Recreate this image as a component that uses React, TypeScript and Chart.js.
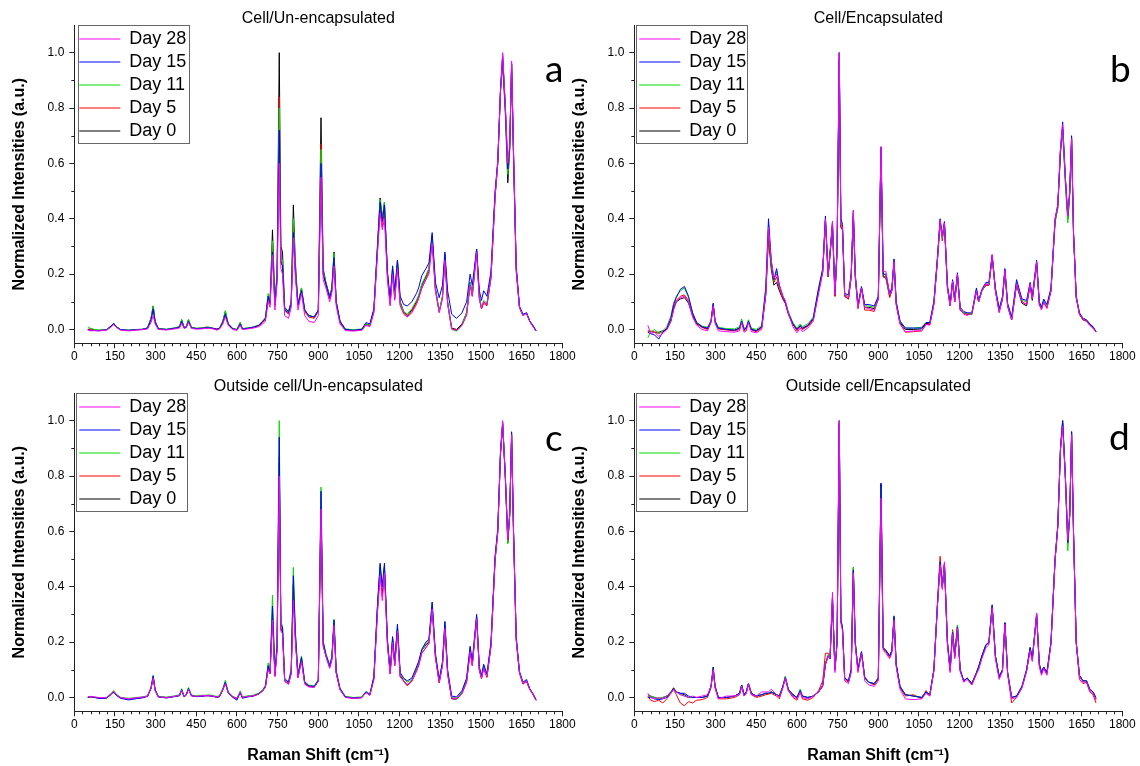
import React, { useEffect, useRef } from "react";
import { Chart, registerables } from "chart.js";

Chart.register(...registerables);

const FONT = "'Liberation Sans', Arial, sans-serif";

const WAVENUMBERS = [
  50, 60, 75, 90, 105, 120, 135, 145, 155, 170,
  185, 200, 215, 230, 250, 270, 283, 291, 298, 310,
  340, 370, 388, 396, 405, 413, 421, 432, 450, 470,
  485, 495, 505, 515, 525, 535, 548, 557, 568, 585,
  600, 612, 620, 640, 660, 680, 695, 705, 715, 722,
  731, 740, 748, 756, 762, 768, 776, 790, 800, 808,
  815, 825, 838, 850, 865, 885, 900, 910, 918, 928,
  942, 950, 958, 966, 980, 1000, 1030, 1060, 1076, 1090,
  1105, 1118, 1128, 1136, 1144, 1155, 1165, 1174, 1182, 1192,
  1202, 1215, 1228, 1245, 1262, 1270, 1282, 1297, 1308, 1320,
  1332, 1346, 1358, 1367, 1377, 1392, 1410, 1430, 1447, 1460,
  1468, 1484, 1494, 1502, 1510, 1522, 1537, 1552, 1562, 1572,
  1580, 1590, 1599, 1606, 1613, 1620, 1630, 1642, 1655, 1668,
  1680, 1692, 1703,
];

const X_TICKS = [0, 150, 300, 450, 600, 750, 900, 1050, 1200, 1350, 1500, 1650, 1800];
const Y_TICKS = [0, 0.2, 0.4, 0.6, 0.8, 1.0];
const SERIES_LABELS = ["Day 28", "Day 15", "Day 11", "Day 5", "Day 0"];
const SERIES_COLORS = ["#ff00ff", "#0000ff", "#00dd00", "#ff0000", "#000000"];

// ---------- Panel a: Cell/Un-encapsulated ----------
const A_DAY28 = [
  -0.002, -0.005, -0.004, -0.005, -0.004, -0.002, 0.008, 0.018, 0.008, -0.002,
  -0.004, -0.005, -0.004, -0.002, -0.001, 0.002, 0.025, 0.050, 0.020, 0.000,
  -0.002, 0.002, 0.005, 0.022, 0.004, 0.006, 0.025, 0.004, 0.001, 0.002,
  0.004, 0.004, 0.003, 0.001, -0.002, 0.001, 0.020, 0.045, 0.014, 0.000,
  -0.003, 0.015, 0.000, 0.002, 0.005, 0.010, 0.020, 0.030, 0.100, 0.080,
  0.270, 0.070, 0.170, 0.600, 0.220, 0.200, 0.050, 0.040, 0.080, 0.330,
  0.200, 0.070, 0.130, 0.050, 0.030, 0.025, 0.050, 0.550, 0.180, 0.150,
  0.100, 0.130, 0.230, 0.085, 0.020, -0.004, -0.006, -0.003, 0.015, 0.010,
  0.060, 0.270, 0.420, 0.360, 0.400, 0.180, 0.085, 0.200, 0.105, 0.220,
  0.085, 0.055, 0.045, 0.060, 0.090, 0.110, 0.150, 0.180, 0.200, 0.310,
  0.140, 0.060, 0.110, 0.250, 0.090, 0.002, -0.004, 0.015, 0.050, 0.160,
  0.120, 0.280, 0.110, 0.075, 0.100, 0.090, 0.190, 0.480, 0.610, 0.860,
  1.000, 0.810, 0.600, 0.670, 0.970, 0.650, 0.220, 0.080, 0.050, 0.058,
  0.028, 0.010, -0.006,
];
const A_DAY15 = [
  0.000, -0.004, -0.004, -0.005, -0.003, -0.001, 0.012, 0.022, 0.010, 0.000,
  -0.002, -0.003, -0.002, -0.001, 0.000, 0.005, 0.035, 0.075, 0.028, 0.002,
  0.000, 0.004, 0.008, 0.030, 0.006, 0.008, 0.030, 0.006, 0.003, 0.004,
  0.006, 0.006, 0.005, 0.003, 0.000, 0.003, 0.025, 0.055, 0.018, 0.002,
  -0.002, 0.020, 0.002, 0.004, 0.008, 0.014, 0.028, 0.040, 0.120, 0.095,
  0.280, 0.090, 0.190, 0.720, 0.240, 0.230, 0.070, 0.060, 0.095, 0.350,
  0.210, 0.090, 0.140, 0.070, 0.050, 0.045, 0.070, 0.600, 0.200, 0.165,
  0.115, 0.145, 0.260, 0.100, 0.030, 0.000, -0.003, 0.000, 0.025, 0.020,
  0.075, 0.290, 0.460, 0.390, 0.450, 0.210, 0.110, 0.230, 0.140, 0.250,
  0.120, 0.090, 0.085, 0.100, 0.130, 0.150, 0.195, 0.220, 0.240, 0.350,
  0.170, 0.115, 0.160, 0.280, 0.140, 0.055, 0.040, 0.060, 0.100, 0.200,
  0.160, 0.290, 0.140, 0.105, 0.140, 0.120, 0.210, 0.500, 0.610, 0.870,
  0.990, 0.800, 0.580, 0.660, 0.960, 0.640, 0.230, 0.085, 0.055, 0.060,
  0.030, 0.012, -0.004,
];
const A_DAY11 = [
  0.010, 0.004, 0.000, -0.002, -0.002, 0.000, 0.012, 0.022, 0.010, 0.000,
  -0.002, -0.003, -0.001, 0.000, 0.001, 0.006, 0.042, 0.085, 0.030, 0.003,
  0.001, 0.006, 0.010, 0.036, 0.008, 0.010, 0.036, 0.008, 0.004, 0.005,
  0.008, 0.008, 0.006, 0.003, -0.002, 0.004, 0.030, 0.068, 0.020, 0.003,
  0.000, 0.025, 0.003, 0.005, 0.009, 0.016, 0.030, 0.045, 0.130, 0.100,
  0.320, 0.100, 0.200, 0.800, 0.260, 0.250, 0.075, 0.062, 0.100, 0.400,
  0.230, 0.090, 0.150, 0.070, 0.050, 0.045, 0.070, 0.650, 0.210, 0.170,
  0.120, 0.150, 0.275, 0.100, 0.030, 0.002, -0.001, 0.002, 0.020, 0.015,
  0.070, 0.290, 0.470, 0.400, 0.460, 0.200, 0.095, 0.210, 0.115, 0.240,
  0.095, 0.065, 0.055, 0.075, 0.105, 0.125, 0.165, 0.195, 0.220, 0.330,
  0.145, 0.065, 0.120, 0.270, 0.095, 0.000, -0.006, 0.015, 0.060, 0.170,
  0.125, 0.285, 0.115, 0.080, 0.105, 0.095, 0.195, 0.490, 0.600, 0.860,
  0.990, 0.790, 0.560, 0.650, 0.950, 0.630, 0.220, 0.080, 0.050, 0.060,
  0.030, 0.012, -0.005,
];
const A_DAY5 = [
  0.000, 0.000, -0.003, -0.004, -0.003, -0.001, 0.010, 0.020, 0.008, -0.001,
  -0.003, -0.004, -0.003, -0.001, 0.000, 0.004, 0.035, 0.075, 0.025, 0.002,
  -0.001, 0.004, 0.008, 0.030, 0.006, 0.008, 0.030, 0.006, 0.003, 0.004,
  0.007, 0.007, 0.005, 0.003, 0.001, 0.003, 0.025, 0.055, 0.018, 0.002,
  -0.001, 0.020, 0.002, 0.004, 0.007, 0.013, 0.025, 0.035, 0.110, 0.090,
  0.300, 0.085, 0.180, 0.840, 0.250, 0.230, 0.070, 0.055, 0.090, 0.380,
  0.220, 0.085, 0.140, 0.065, 0.045, 0.040, 0.065, 0.670, 0.200, 0.160,
  0.110, 0.140, 0.260, 0.095, 0.025, -0.002, -0.004, -0.002, 0.018, 0.012,
  0.065, 0.280, 0.440, 0.370, 0.430, 0.190, 0.090, 0.200, 0.110, 0.230,
  0.090, 0.060, 0.045, 0.065, 0.095, 0.115, 0.150, 0.180, 0.210, 0.320,
  0.140, 0.065, 0.115, 0.260, 0.095, 0.003, -0.003, 0.015, 0.055, 0.160,
  0.120, 0.280, 0.110, 0.075, 0.095, 0.085, 0.185, 0.480, 0.600, 0.860,
  0.980, 0.800, 0.570, 0.660, 0.960, 0.640, 0.220, 0.080, 0.050, 0.060,
  0.030, 0.012, -0.006,
];
const A_DAY0 = [
  0.000, 0.002, -0.002, -0.003, -0.002, 0.000, 0.012, 0.022, 0.010, 0.000,
  -0.002, -0.003, -0.002, 0.000, 0.000, 0.005, 0.040, 0.085, 0.030, 0.003,
  0.000, 0.005, 0.010, 0.035, 0.008, 0.010, 0.035, 0.008, 0.004, 0.005,
  0.008, 0.008, 0.006, 0.004, 0.002, 0.004, 0.030, 0.065, 0.020, 0.003,
  0.000, 0.025, 0.003, 0.005, 0.008, 0.015, 0.030, 0.040, 0.120, 0.100,
  0.360, 0.100, 0.200, 1.000, 0.300, 0.280, 0.080, 0.065, 0.100, 0.450,
  0.250, 0.090, 0.150, 0.070, 0.050, 0.045, 0.070, 0.765, 0.220, 0.170,
  0.120, 0.150, 0.280, 0.100, 0.030, 0.000, -0.003, 0.000, 0.020, 0.015,
  0.070, 0.300, 0.475, 0.400, 0.460, 0.200, 0.100, 0.220, 0.120, 0.250,
  0.100, 0.065, 0.050, 0.070, 0.100, 0.120, 0.160, 0.190, 0.220, 0.340,
  0.150, 0.065, 0.120, 0.270, 0.100, 0.005, 0.000, 0.020, 0.060, 0.170,
  0.130, 0.290, 0.120, 0.075, 0.100, 0.090, 0.190, 0.480, 0.600, 0.860,
  0.960, 0.780, 0.530, 0.650, 0.960, 0.620, 0.210, 0.080, 0.050, 0.060,
  0.030, 0.015, -0.005,
];

// ---------- Panel b: Cell/Encapsulated ----------
const B_DAY28 = [
  0.015, -0.015, -0.010, -0.025, -0.015, 0.000, 0.030, 0.070, 0.100, 0.115,
  0.120, 0.100, 0.045, 0.015, 0.000, -0.005, 0.025, 0.085, 0.022, -0.005,
  -0.008, -0.010, -0.005, 0.025, -0.010, -0.005, 0.025, -0.008, -0.012, 0.000,
  0.130, 0.370, 0.250, 0.185, 0.200, 0.160, 0.120, 0.105, 0.060, 0.010,
  -0.012, 0.005, -0.008, 0.005, 0.030, 0.130, 0.205, 0.400, 0.195, 0.275,
  0.390, 0.125, 0.290, 1.000, 0.380, 0.370, 0.125, 0.115, 0.195, 0.430,
  0.200, 0.080, 0.150, 0.080, 0.075, 0.070, 0.110, 0.660, 0.210, 0.210,
  0.125, 0.140, 0.245, 0.090, 0.020, -0.008, -0.005, -0.005, 0.018, 0.015,
  0.090, 0.250, 0.395, 0.335, 0.385, 0.155, 0.085, 0.175, 0.100, 0.200,
  0.075, 0.055, 0.050, 0.060, 0.140, 0.100, 0.140, 0.165, 0.160, 0.270,
  0.140, 0.060, 0.110, 0.215, 0.085, 0.035, 0.165, 0.100, 0.090, 0.165,
  0.110, 0.245, 0.090, 0.070, 0.100, 0.075, 0.140, 0.400, 0.450, 0.660,
  0.740, 0.550, 0.410, 0.500, 0.690, 0.350, 0.120, 0.055, 0.040, 0.030,
  0.015, 0.005, -0.008,
];
const B_DAY15 = [
  -0.010, -0.015, -0.020, -0.035, -0.010, 0.005, 0.040, 0.090, 0.115, 0.145,
  0.155, 0.120, 0.060, 0.025, 0.010, 0.005, 0.030, 0.095, 0.030, 0.005,
  0.000, -0.003, 0.005, 0.030, 0.000, 0.005, 0.030, 0.000, -0.005, 0.010,
  0.150, 0.400, 0.250, 0.180, 0.220, 0.160, 0.120, 0.100, 0.060, 0.020,
  0.000, 0.015, 0.005, 0.015, 0.040, 0.150, 0.220, 0.410, 0.200, 0.280,
  0.390, 0.130, 0.300, 1.000, 0.400, 0.380, 0.130, 0.125, 0.200, 0.430,
  0.200, 0.090, 0.155, 0.090, 0.090, 0.085, 0.120, 0.660, 0.200, 0.200,
  0.130, 0.150, 0.255, 0.100, 0.030, 0.005, 0.005, 0.005, 0.025, 0.025,
  0.100, 0.260, 0.400, 0.340, 0.390, 0.160, 0.095, 0.180, 0.110, 0.205,
  0.080, 0.065, 0.060, 0.060, 0.150, 0.105, 0.145, 0.170, 0.170, 0.270,
  0.150, 0.075, 0.120, 0.220, 0.095, 0.045, 0.180, 0.110, 0.105, 0.170,
  0.120, 0.250, 0.100, 0.080, 0.110, 0.090, 0.150, 0.400, 0.450, 0.650,
  0.750, 0.550, 0.410, 0.500, 0.700, 0.350, 0.120, 0.060, 0.040, 0.035,
  0.020, 0.010, -0.008,
];
const B_DAY11 = [
  -0.030, -0.010, 0.000, -0.015, -0.005, 0.010, 0.050, 0.095, 0.120, 0.140,
  0.150, 0.115, 0.060, 0.025, 0.012, 0.008, 0.032, 0.090, 0.032, 0.008,
  0.003, 0.002, 0.010, 0.038, 0.005, 0.008, 0.035, 0.005, 0.000, 0.015,
  0.150, 0.380, 0.240, 0.175, 0.210, 0.155, 0.120, 0.100, 0.065, 0.025,
  0.005, 0.020, 0.010, 0.020, 0.045, 0.150, 0.215, 0.400, 0.200, 0.275,
  0.380, 0.130, 0.290, 1.000, 0.380, 0.370, 0.125, 0.120, 0.200, 0.420,
  0.190, 0.085, 0.150, 0.085, 0.085, 0.080, 0.115, 0.650, 0.200, 0.195,
  0.125, 0.145, 0.250, 0.100, 0.030, 0.005, 0.005, 0.008, 0.025, 0.025,
  0.100, 0.255, 0.395, 0.330, 0.385, 0.155, 0.090, 0.175, 0.105, 0.200,
  0.075, 0.060, 0.060, 0.055, 0.145, 0.100, 0.140, 0.165, 0.165, 0.265,
  0.145, 0.070, 0.115, 0.215, 0.090, 0.040, 0.170, 0.105, 0.100, 0.165,
  0.115, 0.245, 0.095, 0.080, 0.105, 0.085, 0.145, 0.390, 0.440, 0.640,
  0.720, 0.520, 0.385, 0.480, 0.680, 0.340, 0.115, 0.060, 0.040, 0.035,
  0.020, 0.010, -0.008,
];
const B_DAY5 = [
  -0.010, -0.005, -0.010, -0.015, -0.008, 0.000, 0.035, 0.080, 0.105, 0.120,
  0.125, 0.105, 0.055, 0.022, 0.008, 0.000, 0.028, 0.090, 0.028, 0.002,
  -0.002, -0.005, 0.000, 0.028, -0.005, 0.000, 0.028, -0.002, -0.008, 0.005,
  0.130, 0.350, 0.230, 0.170, 0.190, 0.145, 0.110, 0.095, 0.055, 0.018,
  -0.005, 0.012, 0.000, 0.012, 0.035, 0.140, 0.210, 0.395, 0.190, 0.270,
  0.380, 0.120, 0.280, 0.980, 0.370, 0.360, 0.120, 0.110, 0.190, 0.420,
  0.190, 0.075, 0.150, 0.070, 0.070, 0.065, 0.110, 0.650, 0.190, 0.185,
  0.115, 0.140, 0.240, 0.090, 0.020, -0.010, -0.008, -0.005, 0.018, 0.018,
  0.090, 0.245, 0.390, 0.320, 0.380, 0.150, 0.085, 0.170, 0.100, 0.195,
  0.070, 0.060, 0.055, 0.055, 0.140, 0.100, 0.140, 0.160, 0.160, 0.265,
  0.140, 0.065, 0.110, 0.215, 0.085, 0.035, 0.165, 0.100, 0.090, 0.160,
  0.110, 0.240, 0.090, 0.075, 0.100, 0.080, 0.140, 0.390, 0.440, 0.650,
  0.730, 0.540, 0.400, 0.490, 0.690, 0.350, 0.115, 0.055, 0.035, 0.030,
  0.015, 0.005, -0.010,
];
const B_DAY0 = [
  -0.005, -0.008, -0.010, -0.010, -0.005, 0.000, 0.030, 0.075, 0.100, 0.110,
  0.115, 0.095, 0.050, 0.020, 0.008, 0.002, 0.028, 0.088, 0.028, 0.004,
  0.000, -0.002, 0.004, 0.030, 0.000, 0.004, 0.030, 0.000, -0.004, 0.008,
  0.125, 0.330, 0.220, 0.160, 0.170, 0.140, 0.110, 0.095, 0.058, 0.020,
  0.000, 0.012, 0.003, 0.012, 0.035, 0.140, 0.210, 0.390, 0.190, 0.270,
  0.370, 0.120, 0.280, 0.970, 0.370, 0.360, 0.120, 0.110, 0.190, 0.410,
  0.190, 0.080, 0.150, 0.080, 0.080, 0.075, 0.110, 0.640, 0.190, 0.190,
  0.120, 0.140, 0.245, 0.095, 0.025, 0.000, 0.000, 0.002, 0.022, 0.020,
  0.095, 0.250, 0.390, 0.330, 0.380, 0.150, 0.085, 0.170, 0.100, 0.195,
  0.070, 0.060, 0.055, 0.055, 0.140, 0.100, 0.140, 0.160, 0.160, 0.260,
  0.140, 0.065, 0.110, 0.210, 0.085, 0.035, 0.160, 0.095, 0.085, 0.160,
  0.105, 0.240, 0.090, 0.075, 0.100, 0.080, 0.140, 0.390, 0.440, 0.640,
  0.720, 0.540, 0.400, 0.490, 0.690, 0.350, 0.115, 0.055, 0.035, 0.030,
  0.018, 0.008, -0.008,
];

// ---------- Panel c: Outside cell/Un-encapsulated ----------
const C_DAY28 = [
  0.002, 0.004, 0.002, 0.000, -0.001, 0.000, 0.012, 0.022, 0.010, 0.000,
  -0.003, -0.004, -0.003, -0.001, 0.001, 0.005, 0.032, 0.070, 0.025, 0.002,
  0.000, 0.004, 0.008, 0.026, 0.004, 0.010, 0.030, 0.006, 0.004, 0.006,
  0.007, 0.008, 0.006, 0.004, 0.002, 0.004, 0.028, 0.050, 0.016, 0.002,
  -0.003, 0.018, 0.000, 0.004, 0.006, 0.012, 0.024, 0.038, 0.100, 0.085,
  0.280, 0.075, 0.170, 0.800, 0.240, 0.230, 0.060, 0.048, 0.085, 0.350,
  0.210, 0.070, 0.130, 0.048, 0.038, 0.036, 0.058, 0.680, 0.185, 0.150,
  0.105, 0.135, 0.260, 0.088, 0.028, 0.000, -0.003, -0.001, 0.018, 0.008,
  0.065, 0.300, 0.440, 0.350, 0.450, 0.190, 0.085, 0.200, 0.115, 0.240,
  0.075, 0.060, 0.045, 0.060, 0.095, 0.115, 0.160, 0.180, 0.195, 0.320,
  0.145, 0.055, 0.115, 0.250, 0.085, -0.002, -0.004, 0.015, 0.055, 0.165,
  0.115, 0.285, 0.100, 0.070, 0.105, 0.075, 0.185, 0.495, 0.600, 0.880,
  1.000, 0.800, 0.570, 0.660, 0.950, 0.600, 0.210, 0.090, 0.050, 0.060,
  0.030, 0.012, -0.010,
];
const C_DAY15 = [
  0.001, 0.003, 0.000, -0.003, -0.004, -0.002, 0.010, 0.020, 0.008, -0.003,
  -0.006, -0.009, -0.007, -0.004, -0.002, 0.004, 0.034, 0.078, 0.028, 0.002,
  -0.002, 0.003, 0.006, 0.028, 0.002, 0.008, 0.032, 0.006, 0.003, 0.004,
  0.006, 0.006, 0.005, 0.003, 0.001, 0.002, 0.028, 0.055, 0.016, 0.000,
  -0.010, 0.018, -0.003, 0.002, 0.005, 0.013, 0.025, 0.040, 0.115, 0.090,
  0.330, 0.085, 0.190, 0.940, 0.260, 0.255, 0.065, 0.055, 0.095, 0.440,
  0.240, 0.080, 0.145, 0.055, 0.042, 0.040, 0.062, 0.745, 0.200, 0.155,
  0.115, 0.145, 0.280, 0.095, 0.032, 0.002, -0.002, 0.000, 0.020, 0.010,
  0.075, 0.330, 0.485, 0.400, 0.485, 0.210, 0.095, 0.220, 0.130, 0.265,
  0.090, 0.070, 0.060, 0.070, 0.110, 0.130, 0.175, 0.200, 0.210, 0.345,
  0.160, 0.065, 0.130, 0.275, 0.100, 0.005, 0.002, 0.025, 0.070, 0.185,
  0.130, 0.300, 0.110, 0.080, 0.120, 0.085, 0.200, 0.510, 0.610, 0.890,
  0.990, 0.800, 0.570, 0.670, 0.960, 0.610, 0.220, 0.095, 0.055, 0.065,
  0.032, 0.014, -0.008,
];
const C_DAY11 = [
  0.001, 0.003, 0.001, -0.001, -0.001, 0.001, 0.014, 0.025, 0.012, 0.001,
  -0.002, -0.003, -0.002, 0.000, 0.002, 0.006, 0.036, 0.080, 0.030, 0.004,
  0.001, 0.006, 0.010, 0.032, 0.006, 0.012, 0.036, 0.009, 0.006, 0.008,
  0.008, 0.009, 0.008, 0.006, 0.004, 0.006, 0.033, 0.062, 0.020, 0.004,
  -0.002, 0.024, 0.002, 0.006, 0.008, 0.016, 0.028, 0.045, 0.125, 0.095,
  0.370, 0.090, 0.200, 1.000, 0.270, 0.260, 0.068, 0.058, 0.100, 0.470,
  0.250, 0.085, 0.150, 0.058, 0.045, 0.042, 0.065, 0.760, 0.205, 0.160,
  0.118, 0.148, 0.282, 0.098, 0.034, 0.004, 0.000, 0.002, 0.022, 0.012,
  0.075, 0.325, 0.480, 0.395, 0.475, 0.205, 0.092, 0.215, 0.125, 0.258,
  0.085, 0.068, 0.055, 0.065, 0.105, 0.125, 0.170, 0.195, 0.205, 0.340,
  0.155, 0.060, 0.125, 0.270, 0.095, 0.000, -0.002, 0.020, 0.065, 0.180,
  0.125, 0.295, 0.105, 0.075, 0.115, 0.080, 0.195, 0.505, 0.605, 0.885,
  0.995, 0.790, 0.555, 0.660, 0.955, 0.600, 0.215, 0.090, 0.052, 0.062,
  0.030, 0.012, -0.010,
];
const C_DAY5 = [
  0.000, 0.002, 0.000, -0.002, -0.003, -0.001, 0.010, 0.020, 0.008, -0.001,
  -0.004, -0.005, -0.004, -0.002, 0.000, 0.004, 0.032, 0.072, 0.026, 0.002,
  -0.001, 0.004, 0.007, 0.026, 0.003, 0.009, 0.030, 0.006, 0.003, 0.005,
  0.006, 0.006, 0.005, 0.003, 0.001, 0.003, 0.027, 0.052, 0.016, 0.001,
  -0.005, 0.018, -0.001, 0.003, 0.005, 0.012, 0.023, 0.038, 0.105, 0.085,
  0.300, 0.078, 0.175, 0.870, 0.245, 0.235, 0.058, 0.048, 0.088, 0.410,
  0.225, 0.072, 0.135, 0.050, 0.040, 0.038, 0.060, 0.690, 0.190, 0.150,
  0.108, 0.138, 0.268, 0.088, 0.028, 0.000, -0.003, -0.001, 0.018, 0.008,
  0.068, 0.310, 0.455, 0.365, 0.455, 0.195, 0.085, 0.200, 0.115, 0.240,
  0.075, 0.058, 0.042, 0.058, 0.095, 0.115, 0.160, 0.180, 0.195, 0.325,
  0.145, 0.052, 0.115, 0.255, 0.085, -0.004, -0.005, 0.015, 0.055, 0.165,
  0.115, 0.285, 0.098, 0.068, 0.105, 0.072, 0.185, 0.495, 0.595, 0.875,
  0.985, 0.790, 0.560, 0.655, 0.945, 0.595, 0.205, 0.088, 0.048, 0.058,
  0.028, 0.010, -0.010,
];
const C_DAY0 = [
  0.000, 0.002, 0.000, -0.002, -0.002, 0.000, 0.012, 0.022, 0.010, 0.000,
  -0.003, -0.005, -0.004, -0.002, 0.000, 0.005, 0.035, 0.075, 0.028, 0.003,
  0.000, 0.004, 0.008, 0.028, 0.004, 0.010, 0.033, 0.008, 0.004, 0.006,
  0.007, 0.007, 0.006, 0.004, 0.002, 0.004, 0.030, 0.055, 0.018, 0.002,
  -0.004, 0.020, 0.000, 0.004, 0.006, 0.014, 0.025, 0.040, 0.110, 0.090,
  0.300, 0.080, 0.180, 0.850, 0.250, 0.240, 0.060, 0.050, 0.090, 0.400,
  0.220, 0.075, 0.140, 0.050, 0.040, 0.038, 0.060, 0.680, 0.190, 0.150,
  0.110, 0.140, 0.270, 0.090, 0.030, 0.002, -0.002, 0.000, 0.020, 0.010,
  0.070, 0.320, 0.470, 0.380, 0.470, 0.200, 0.090, 0.210, 0.120, 0.250,
  0.080, 0.060, 0.045, 0.060, 0.100, 0.120, 0.170, 0.190, 0.200, 0.330,
  0.150, 0.055, 0.120, 0.260, 0.090, -0.005, -0.006, 0.015, 0.060, 0.170,
  0.120, 0.290, 0.100, 0.070, 0.110, 0.075, 0.190, 0.500, 0.600, 0.880,
  0.990, 0.790, 0.560, 0.660, 0.950, 0.600, 0.210, 0.090, 0.050, 0.060,
  0.030, 0.012, -0.010,
];

// ---------- Panel d: Outside cell/Encapsulated ----------
const D_DAY28 = [
  0.015, 0.000, -0.005, 0.000, -0.005, 0.005, 0.015, 0.030, 0.020, 0.010,
  0.005, 0.000, 0.005, 0.000, 0.005, 0.010, 0.040, 0.100, 0.035, -0.005,
  0.005, 0.005, 0.010, 0.040, 0.005, 0.015, 0.050, 0.010, 0.005, 0.020,
  0.020, 0.020, 0.030, 0.020, 0.010, 0.000, 0.035, 0.070, 0.025, 0.005,
  -0.005, 0.020, 0.000, -0.005, 0.005, 0.020, 0.045, 0.120, 0.150, 0.140,
  0.380, 0.090, 0.200, 1.000, 0.270, 0.240, 0.060, 0.050, 0.090, 0.450,
  0.190, 0.090, 0.160, 0.060, 0.045, 0.040, 0.060, 0.720, 0.170, 0.160,
  0.140, 0.160, 0.280, 0.110, 0.030, -0.005, -0.008, -0.005, 0.015, 0.005,
  0.095, 0.330, 0.480, 0.390, 0.490, 0.190, 0.090, 0.230, 0.140, 0.250,
  0.095, 0.055, 0.065, 0.045, 0.085, 0.100, 0.140, 0.180, 0.190, 0.325,
  0.140, 0.065, 0.095, 0.265, 0.085, -0.005, 0.000, 0.035, 0.095, 0.170,
  0.130, 0.305, 0.110, 0.080, 0.105, 0.080, 0.195, 0.495, 0.615, 0.895,
  0.980, 0.800, 0.570, 0.660, 0.950, 0.600, 0.200, 0.075, 0.055, 0.055,
  0.025, 0.015, -0.010,
];
const D_DAY15 = [
  0.000, 0.000, -0.005, -0.008, -0.005, 0.000, 0.018, 0.030, 0.020, 0.015,
  0.015, 0.005, 0.000, 0.000, 0.000, 0.005, 0.040, 0.105, 0.040, 0.000,
  0.000, 0.005, 0.015, 0.045, 0.010, 0.020, 0.050, 0.015, 0.005, 0.010,
  0.015, 0.015, 0.020, 0.015, 0.010, 0.005, 0.040, 0.072, 0.030, 0.010,
  0.000, 0.025, 0.005, 0.000, 0.005, 0.020, 0.045, 0.120, 0.150, 0.140,
  0.360, 0.100, 0.200, 0.990, 0.280, 0.250, 0.070, 0.060, 0.100, 0.460,
  0.200, 0.100, 0.165, 0.070, 0.055, 0.050, 0.070, 0.775, 0.180, 0.170,
  0.150, 0.170, 0.295, 0.120, 0.040, 0.010, 0.005, 0.000, 0.020, 0.010,
  0.100, 0.330, 0.490, 0.400, 0.485, 0.200, 0.100, 0.235, 0.150, 0.255,
  0.100, 0.060, 0.070, 0.050, 0.090, 0.110, 0.150, 0.190, 0.200, 0.335,
  0.150, 0.075, 0.100, 0.270, 0.090, 0.000, 0.005, 0.040, 0.100, 0.180,
  0.140, 0.300, 0.120, 0.090, 0.110, 0.090, 0.200, 0.500, 0.620, 0.900,
  1.000, 0.800, 0.560, 0.660, 0.960, 0.600, 0.200, 0.080, 0.060, 0.060,
  0.030, 0.020, 0.000,
];
const D_DAY11 = [
  0.000, 0.005, 0.000, -0.005, 0.000, 0.005, 0.020, 0.030, 0.020, 0.010,
  0.005, 0.000, 0.000, 0.000, 0.000, 0.005, 0.040, 0.105, 0.040, 0.000,
  0.000, 0.005, 0.015, 0.045, 0.010, 0.020, 0.050, 0.015, 0.005, 0.010,
  0.015, 0.015, 0.020, 0.015, 0.010, 0.005, 0.040, 0.075, 0.030, 0.010,
  0.000, 0.030, 0.005, 0.000, 0.005, 0.020, 0.045, 0.125, 0.155, 0.140,
  0.360, 0.100, 0.200, 1.000, 0.280, 0.255, 0.070, 0.060, 0.100, 0.470,
  0.200, 0.100, 0.165, 0.075, 0.055, 0.050, 0.070, 0.760, 0.180, 0.170,
  0.150, 0.170, 0.290, 0.120, 0.040, 0.010, 0.005, 0.000, 0.020, 0.010,
  0.100, 0.330, 0.490, 0.395, 0.480, 0.200, 0.100, 0.240, 0.155, 0.262,
  0.100, 0.060, 0.070, 0.050, 0.090, 0.110, 0.150, 0.190, 0.200, 0.330,
  0.150, 0.075, 0.100, 0.265, 0.090, 0.000, 0.005, 0.040, 0.100, 0.180,
  0.140, 0.300, 0.120, 0.090, 0.110, 0.090, 0.200, 0.500, 0.620, 0.900,
  0.990, 0.780, 0.530, 0.650, 0.950, 0.590, 0.200, 0.080, 0.060, 0.060,
  0.030, 0.020, -0.005,
];
const D_DAY5 = [
  0.005, -0.010, -0.015, -0.010, -0.020, -0.005, 0.015, 0.030, 0.010, -0.020,
  -0.030, -0.015, -0.020, -0.010, -0.008, 0.000, 0.035, 0.100, 0.035, -0.005,
  -0.005, 0.000, 0.010, 0.040, 0.005, 0.015, 0.045, 0.010, 0.000, 0.005,
  0.010, 0.012, 0.015, 0.010, 0.005, -0.005, 0.035, 0.070, 0.025, 0.000,
  -0.010, 0.020, -0.005, -0.010, 0.000, 0.025, 0.060, 0.160, 0.160, 0.140,
  0.350, 0.100, 0.200, 0.980, 0.270, 0.250, 0.065, 0.055, 0.095, 0.460,
  0.195, 0.095, 0.160, 0.075, 0.055, 0.045, 0.065, 0.760, 0.175, 0.165,
  0.145, 0.165, 0.285, 0.115, 0.035, 0.005, 0.010, -0.005, 0.025, 0.005,
  0.100, 0.340, 0.510, 0.400, 0.480, 0.195, 0.095, 0.245, 0.145, 0.255,
  0.095, 0.060, 0.070, 0.045, 0.085, 0.105, 0.145, 0.190, 0.195, 0.330,
  0.145, 0.070, 0.095, 0.265, 0.085, -0.020, 0.000, 0.035, 0.095, 0.175,
  0.135, 0.295, 0.115, 0.085, 0.105, 0.085, 0.195, 0.495, 0.615, 0.895,
  0.990, 0.790, 0.555, 0.655, 0.950, 0.595, 0.195, 0.065, 0.050, 0.055,
  0.020, 0.010, -0.020,
];
const D_DAY0 = [
  0.010, 0.005, 0.000, -0.005, 0.000, 0.005, 0.020, 0.035, 0.020, 0.015,
  0.010, 0.000, 0.000, 0.000, 0.000, 0.005, 0.040, 0.110, 0.040, 0.000,
  0.000, 0.005, 0.015, 0.045, 0.010, 0.020, 0.050, 0.015, 0.005, 0.010,
  0.015, 0.015, 0.020, 0.015, 0.010, 0.005, 0.040, 0.075, 0.030, 0.010,
  0.000, 0.025, 0.005, 0.000, 0.005, 0.020, 0.040, 0.120, 0.150, 0.140,
  0.360, 0.100, 0.200, 1.000, 0.280, 0.250, 0.070, 0.060, 0.100, 0.470,
  0.200, 0.100, 0.165, 0.070, 0.055, 0.050, 0.070, 0.770, 0.180, 0.170,
  0.150, 0.170, 0.290, 0.120, 0.040, 0.010, 0.005, 0.000, 0.020, 0.010,
  0.100, 0.330, 0.490, 0.400, 0.480, 0.200, 0.100, 0.240, 0.150, 0.260,
  0.100, 0.060, 0.070, 0.050, 0.090, 0.110, 0.150, 0.190, 0.200, 0.330,
  0.150, 0.075, 0.100, 0.270, 0.090, 0.000, 0.005, 0.040, 0.100, 0.180,
  0.140, 0.300, 0.120, 0.090, 0.110, 0.090, 0.200, 0.500, 0.620, 0.900,
  1.000, 0.800, 0.560, 0.660, 0.960, 0.600, 0.200, 0.080, 0.060, 0.060,
  0.030, 0.020, -0.005,
];

const PANELS = [
  { key: "a", title: "Cell/Un-encapsulated", series: [A_DAY28, A_DAY15, A_DAY11, A_DAY5, A_DAY0], left: 0, top: 0, xTitle: false, letterX: 545, letterY: 82, legendDx: 4 },
  { key: "b", title: "Cell/Encapsulated", series: [B_DAY28, B_DAY15, B_DAY11, B_DAY5, B_DAY0], left: 560, top: 0, xTitle: false, letterX: 550, letterY: 82, legendDx: 1.5 },
  { key: "c", title: "Outside cell/Un-encapsulated", series: [C_DAY28, C_DAY15, C_DAY11, C_DAY5, C_DAY0], left: 0, top: 368, xTitle: true, letterX: 545, letterY: 83, legendDx: 2 },
  { key: "d", title: "Outside cell/Encapsulated", series: [D_DAY28, D_DAY15, D_DAY11, D_DAY5, D_DAY0], left: 560, top: 368, xTitle: true, letterX: 549, letterY: 82, legendDx: 1.5 },
];

const CANVAS_W = 580;
const CANVAS_H = 398;
const AXIS_COLOR = "#222";

const decorPlugin = {
  id: "decor",
  afterLayout(chart: any) {
    const lg = chart.legend;
    if (lg && chart.chartArea) {
      const dy = chart.chartArea.top - lg.top;
      lg.top += dy;
      lg.bottom += dy;
    }
  },
  afterDraw(chart: any, _args: any, opts: any) {
    const ctx = chart.ctx;
    const { left, top, bottom } = chart.chartArea;
    const xs = chart.scales.x;
    const ys = chart.scales.y;
    ctx.save();
    ctx.strokeStyle = AXIS_COLOR;
    ctx.lineWidth = 1;
    ctx.beginPath();
    for (let v = 30; v < 1800; v += 30) {
      if (v % 150 === 0) continue;
      const px = Math.round(xs.getPixelForValue(v)) + 0.5;
      ctx.moveTo(px, bottom);
      ctx.lineTo(px, bottom + 3);
    }
    for (let k = 1; k <= 9; k += 2) {
      const py = Math.round(ys.getPixelForValue(k / 10)) + 0.5;
      ctx.moveTo(left, py);
      ctx.lineTo(left - 3, py);
    }
    ctx.stroke();
    // legend frame
    ctx.strokeStyle = "#666";
    ctx.strokeRect(Math.round(left + opts.legendDx) + 0.5, Math.round(top) + 0.5, 111, 118);
    // panel letter
    ctx.fillStyle = "#000";
    ctx.font = "37px Lato, 'Open Sans', sans-serif";
    ctx.textBaseline = "alphabetic";
    ctx.textAlign = "left";
    ctx.fillText(opts.letter, opts.letterX, opts.letterY);
    ctx.restore();
  },
};

function makeConfig(panel: any) {
  return {
    type: "line",
    data: {
      datasets: SERIES_LABELS.map((label, i) => ({
        label,
        data: WAVENUMBERS.map((x, j) => ({ x, y: panel.series[i][j] })),
        borderColor: SERIES_COLORS[i],
        backgroundColor: SERIES_COLORS[i],
        borderWidth: 1,
        pointRadius: 0,
        tension: 0,
        fill: false,
      })),
    },
    options: {
      animation: false,
      responsive: false,
      events: [],
      layout: { padding: { left: 0, right: 17.7, top: 0, bottom: 0 } },
      scales: {
        x: {
          type: "linear",
          min: 0,
          max: 1800,
          afterBuildTicks: (s: any) => {
            s.ticks = X_TICKS.map((v) => ({ value: v }));
          },
          afterFit: (s: any) => {
            s.height = 54.7;
            s.paddingLeft = 0;
            s.paddingRight = 0;
          },
          ticks: {
            font: { family: FONT, size: 12 },
            color: "#000",
            padding: 1,
            maxRotation: 0,
            autoSkip: false,
            callback: (v: any) => String(v),
          },
          grid: { drawOnChartArea: false, tickLength: 5, color: AXIS_COLOR },
          border: { display: true, color: AXIS_COLOR, width: 1 },
          title: {
            display: panel.xTitle,
            text: "Raman Shift (cm⁻¹)",
            font: { family: FONT, size: 16, weight: "bold" },
            color: "#000",
            padding: { top: 0, bottom: 1 },
          },
        },
        y: {
          type: "linear",
          min: -0.05,
          max: 1.1,
          afterBuildTicks: (s: any) => {
            s.ticks = Y_TICKS.map((v) => ({ value: v }));
          },
          afterFit: (s: any) => {
            s.width = 74.3;
            s.paddingTop = 0;
            s.paddingBottom = 0;
          },
          ticks: {
            font: { family: FONT, size: 12 },
            color: "#000",
            padding: 5,
            callback: (v: any) => Number(v).toFixed(1),
          },
          grid: { drawOnChartArea: false, tickLength: 5, color: AXIS_COLOR },
          border: { display: true, color: AXIS_COLOR, width: 1 },
          title: {
            display: true,
            text: "Normalized Intensities (a.u.)",
            font: { family: FONT, size: 16, weight: "bold" },
            color: "#000",
            padding: { top: 10.4, bottom: 0 },
          },
        },
      },
      plugins: {
        legend: {
          position: "chartArea",
          align: "start",
          labels: {
            usePointStyle: true,
            pointStyle: "line",
            pointStyleWidth: 41,
            boxHeight: 18,
            padding: 5,
            font: { family: FONT, size: 18 },
            color: "#000",
          },
        },
        title: {
          display: true,
          text: panel.title,
          fullSize: false,
          font: { family: FONT, size: 16, weight: "normal", lineHeight: 1 },
          color: "#000",
          padding: { top: 11, bottom: -2 },
        },
        tooltip: { enabled: false },
        decor: {
          letter: panel.key,
          letterX: panel.letterX,
          letterY: panel.letterY,
          legendDx: panel.legendDx,
        },
      },
    },
    plugins: [decorPlugin],
  };
}

function Panel({ panel }: { panel: any }) {
  const ref = useRef<HTMLCanvasElement | null>(null);
  useEffect(() => {
    if (!ref.current) return;
    const chart = new Chart(ref.current, makeConfig(panel) as any);
    return () => chart.destroy();
  }, [panel]);
  return (
    <div style={{ position: "absolute", left: panel.left, top: panel.top, width: CANVAS_W, height: CANVAS_H }}>
      <canvas ref={ref} width={CANVAS_W} height={CANVAS_H} style={{ width: CANVAS_W, height: CANVAS_H, display: "block" }} />
    </div>
  );
}

export default function App() {
  useEffect(() => {
    document.body.style.margin = "0";
  }, []);
  return (
    <div style={{ position: "absolute", left: 0, top: 0, width: 1140, height: 766, background: "#fff", overflow: "hidden" }}>
      {PANELS.map((p) => (
        <Panel key={p.key} panel={p} />
      ))}
    </div>
  );
}
